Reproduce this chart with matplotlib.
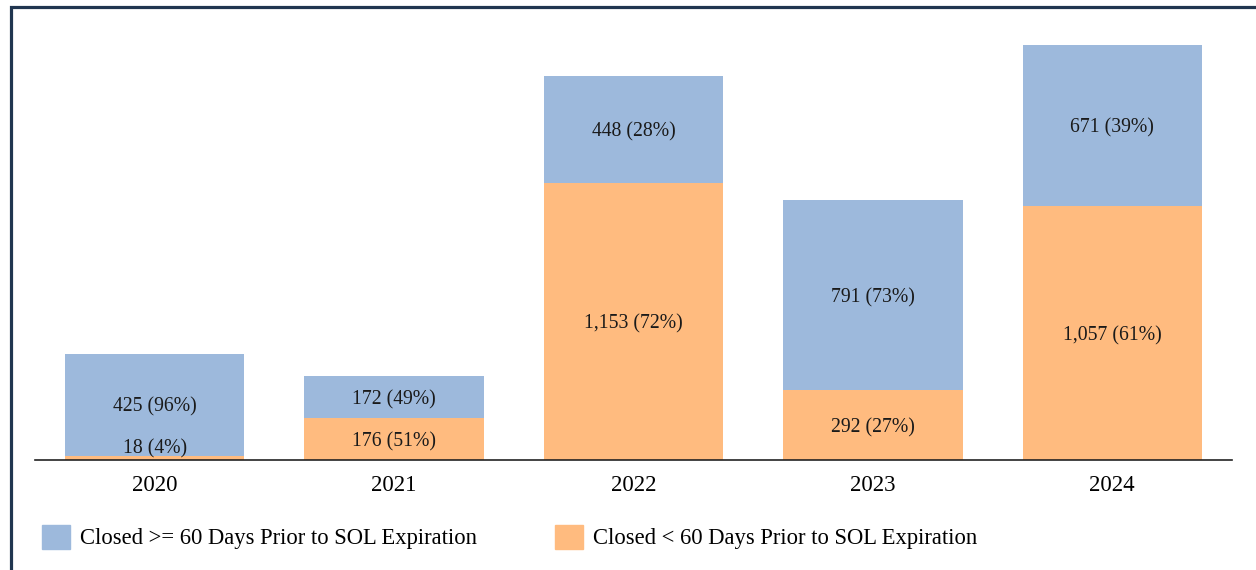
import matplotlib.pyplot as plt
import numpy as np
from matplotlib.patches import Rectangle, Patch

years = ["2020", "2021", "2022", "2023", "2024"]
closed_late = [18, 176, 1153, 292, 1057]      # < 60 days
closed_early = [425, 172, 448, 791, 671]      # >= 60 days
late_pct = [4, 51, 72, 27, 61]
early_pct = [96, 49, 28, 73, 39]

blue = "#9DB9DC"
orange = "#FFBB7F"

plt.rcParams['font.family'] = ['Liberation Serif', 'DejaVu Serif']

fig = plt.figure(figsize=(12.56, 5.70), dpi=100)
W, H = 1256, 570

# outer frame (only left and top edges visible)
fig.patches.append(Rectangle((10.5 / W, -0.1), 1.2, (570 - 6.5) / H + 0.1,
                             transform=fig.transFigure, fill=False,
                             edgecolor="#213650", linewidth=2.3))

ax = fig.add_axes([35 / W, (570 - 460) / H, 1197 / W, 432 / H])
x = np.arange(len(years))
ax.bar(x, closed_late, width=0.75, color=orange, zorder=2)
ax.bar(x, closed_early, width=0.75, bottom=closed_late, color=blue, zorder=2)

for i in range(len(years)):
    yl = closed_late[i] / 2
    if closed_late[i] < 60:
        yl = 58
    ax.text(x[i], yl, f"{closed_late[i]:,} ({late_pct[i]}%)",
            ha="center", va="center_baseline", fontsize=14.2, color="#1a1a1a")
    yb = closed_late[i] + closed_early[i] / 2
    ax.text(x[i], yb, f"{closed_early[i]:,} ({early_pct[i]}%)",
            ha="center", va="center_baseline", fontsize=14.2, color="#1a1a1a")

ax.set_xlim(-0.5, 4.5)
ax.set_ylim(0, 1800)
ax.set_xticks(x)
ax.set_xticklabels(years, fontsize=16.5)
ax.tick_params(axis="x", length=0, pad=11)
ax.set_yticks([])
for s in ["top", "right", "left"]:
    ax.spines[s].set_visible(False)
ax.spines["bottom"].set_color("#222222")
ax.spines["bottom"].set_linewidth(1.2)
ax.spines["bottom"].set_zorder(3)

labels = ["Closed >= 60 Days Prior to SOL Expiration",
          "Closed < 60 Days Prior to SOL Expiration"]
colors = [blue, orange]
lx = [42, 555]
for lab, col, px in zip(labels, colors, lx):
    fig.legend(handles=[Patch(color=col, label=lab)], loc="center left",
               bbox_to_anchor=(px / W, 1 - 537 / H), frameon=False,
               fontsize=16.3, handlelength=1.24, handleheight=1.24,
               handletextpad=0.45, borderpad=0, borderaxespad=0)

fig.savefig("out.png", dpi=100)
